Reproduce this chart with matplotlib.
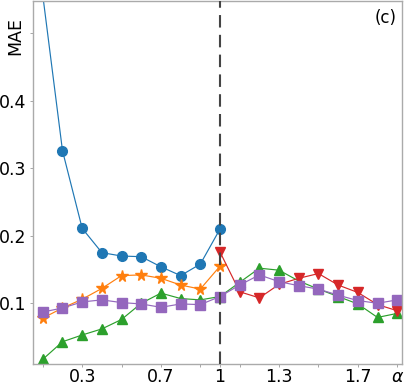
import matplotlib
matplotlib.use("Agg")
import matplotlib.pyplot as plt

# alpha values for each series
alpha_lo = [0.1, 0.2, 0.3, 0.4, 0.5, 0.6, 0.7, 0.8, 0.9, 1.0]
alpha_hi = [1.0, 1.1, 1.2, 1.3, 1.4, 1.5, 1.6, 1.7, 1.8, 1.9]
alpha_all = alpha_lo + alpha_hi[1:]

# MAE
mae_circle = [0.556, 0.326, 0.211, 0.175, 0.170, 0.169, 0.154, 0.141, 0.158, 0.210]
mae_star = [0.078, 0.093, 0.106, 0.122, 0.141, 0.142, 0.137, 0.127, 0.121, 0.155]
mae_tri_up = [0.017, 0.043, 0.053, 0.062, 0.076, 0.100, 0.115, 0.107, 0.105, 0.110,
              0.131, 0.152, 0.149, 0.133, 0.121, 0.110, 0.099, 0.079, 0.085]
mae_tri_down = [0.176, 0.117, 0.108, 0.128, 0.137, 0.144, 0.127, 0.116, 0.098, 0.089]
mae_square = [0.087, 0.093, 0.102, 0.105, 0.101, 0.099, 0.094, 0.099, 0.098, 0.110,
              0.127, 0.142, 0.132, 0.126, 0.121, 0.112, 0.104, 0.100, 0.105]

xticks = [0.1, 0.3, 0.5, 0.7, 0.9, 1.0, 1.1, 1.3, 1.5, 1.7, 1.9]
xticklabels = ['', '0.3', '', '0.7', '', '1', '', '1.3', '', '1.7', r'$\alpha$']
yticks = [0.1, 0.2, 0.3, 0.4, 0.5]
yticklabels = ['0.1', '0.2', '0.3', '0.4', '']

fig = plt.figure(figsize=(4.07, 3.83), dpi=100)
ax = fig.add_axes([0.081, 0.0496, 0.907, 0.948])

ms = 7
lw = 0.85
ax.plot(alpha_lo, mae_circle, '-o', color='tab:blue', ms=ms, lw=lw)
ax.plot(alpha_lo, mae_star, '-*', color='tab:orange', ms=ms + 1.5, lw=lw)
ax.plot(alpha_all, mae_tri_up, '-^', color='tab:green', ms=ms, lw=lw)
ax.plot(alpha_hi, mae_tri_down, '-v', color='tab:red', ms=ms, lw=lw)
ax.plot(alpha_all, mae_square, '-s', color='tab:purple', ms=ms, lw=lw)

ax.axvline(1.0, color='#444444', ls=(0, (6, 3.5)), lw=1.5, zorder=5)

ax.set_xlim(0.05, 1.925)
ax.set_ylim(0.010, 0.548)
ax.set_xticks(xticks)
ax.set_xticklabels(xticklabels)
ax.set_yticks(yticks)
ax.set_yticklabels(yticklabels)

ax.tick_params(axis='both', labelsize=12.5, length=2.5, width=0.6, color='#999999')
ax.tick_params(axis='x', pad=0.5)
ax.tick_params(axis='y', pad=2)
for s in ax.spines.values():
    s.set_color('#aaaaaa')
    s.set_linewidth(1.0)

ax.text(-0.049, 0.904, 'MAE', rotation=90, fontsize=12.5, ha='center', va='center',
        transform=ax.transAxes)
ax.text(0.954, 0.953, '(c)', fontsize=12, ha='center', va='center',
        transform=ax.transAxes)

fig.savefig('out.png', dpi=100)
